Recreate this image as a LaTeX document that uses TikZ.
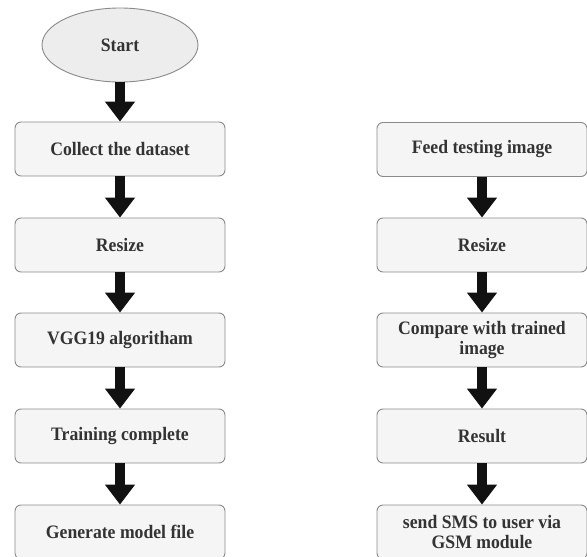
\documentclass[tikz,border=0pt]{standalone}
\usepackage{fontspec}
\setmainfont[FakeStretch=0.93]{Liberation Serif}
\usetikzlibrary{arrows.meta,shapes.geometric}
\definecolor{boxfill}{HTML}{F5F5F5}
\definecolor{boxline}{HTML}{8A8A8A}
\definecolor{ovalfill}{HTML}{EDEDED}
\definecolor{arrowcol}{HTML}{111111}
\definecolor{labelcol}{HTML}{333333}
\tikzset{
  labelfont/.style={font=\fontsize{19}{20}\selectfont\bfseries, text=labelcol},
  stepbox/.style={draw=boxline, line width=0.9pt, fill=boxfill, rounded corners=6pt,
    minimum width=210pt, minimum height=54pt, align=center, inner sep=1pt, labelfont},
  startoval/.style={ellipse, draw=boxline, line width=0.9pt, fill=ovalfill,
    minimum width=156pt, minimum height=74pt, labelfont},
  flow/.style={draw=arrowcol, line width=10pt, -{Triangle[width=29pt,length=20pt]}}
}
\begin{document}
\begin{tikzpicture}[x=1pt,y=-1pt]
\useasboundingbox (0,0) rectangle (587,557);
\clip (0,0) rectangle (587,557);
% left column: training
\node[startoval] (start) at (120,45) {Start};
\node[stepbox] (collect) at (120,149) {Collect the dataset};
\node[stepbox] (resizeL) at (120,245) {Resize};
\node[stepbox] (vgg) at (120,340) {VGG19 algoritham};
\node[stepbox] (train) at (120,436) {Training complete};
\node[stepbox] (model) at (120,532) {Generate model file};
% right column: testing
\node[stepbox] (feed) at (482,149.5) {Feed testing image};
\node[stepbox] (resizeR) at (482,245) {Resize};
\node[stepbox] (compare) at (482,340) {Compare with trained\\image};
\node[stepbox] (result) at (482,436) {Result};
\node[stepbox] (sms) at (482,532) {send SMS to user via\\GSM module};
% connectors
\draw[flow] (start.south) -- (collect.north);
\draw[flow] (collect.south) -- (resizeL.north);
\draw[flow] (resizeL.south) -- (vgg.north);
\draw[flow] (vgg.south) -- (train.north);
\draw[flow] (train.south) -- (model.north);
\draw[flow] (feed.south) -- (resizeR.north);
\draw[flow] (resizeR.south) -- (compare.north);
\draw[flow] (compare.south) -- (result.north);
\draw[flow] (result.south) -- (sms.north);
\end{tikzpicture}
\end{document}
